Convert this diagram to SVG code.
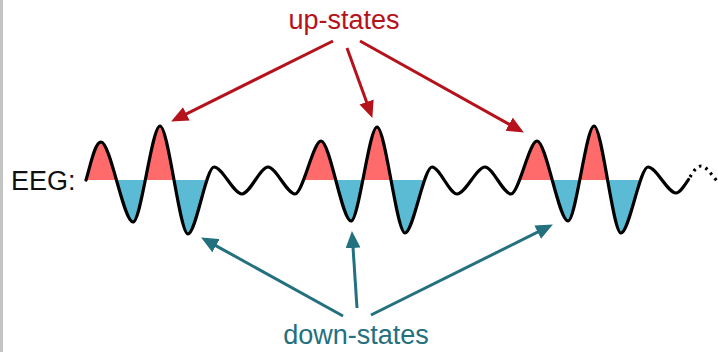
<svg xmlns="http://www.w3.org/2000/svg" width="718" height="352" viewBox="0 0 718 352">
  <defs>
    <style>
      .lbl { font-family: "Liberation Sans", Arial, sans-serif; font-size: 27px; }
      .up { fill: #B5121B; }
      .down { fill: #23707F; }
      .eeg { fill: #111111; }
      .wave { fill: none; stroke: #000000; stroke-width: 3.2; stroke-linejoin: round; stroke-linecap: round; }
      .dots { fill: none; stroke: #000000; stroke-width: 3.2; stroke-dasharray: 2.5 4.5; stroke-linecap: butt; }
      .upArrow { stroke: #B5121B; stroke-width: 3; fill: none; }
      .downArrow { stroke: #23707F; stroke-width: 3; fill: none; }
    </style>
    <marker id="headUp" markerUnits="userSpaceOnUse" markerWidth="17" markerHeight="15" refX="6" refY="7.5" orient="auto">
      <path d="M0,0 L17,7.5 L0,15 z" fill="#B5121B"/>
    </marker>
    <marker id="headDown" markerUnits="userSpaceOnUse" markerWidth="17" markerHeight="15" refX="6" refY="7.5" orient="auto">
      <path d="M0,0 L17,7.5 L0,15 z" fill="#23707F"/>
    </marker>
    <clipPath id="clipRed">
      <rect x="80" y="100" width="115" height="80"/>
      <rect x="288" y="100" width="122" height="80"/>
      <rect x="508" y="100" width="114" height="80"/>
    </clipPath>
    <clipPath id="clipBlue">
      <rect x="100" y="180" width="118" height="80"/>
      <rect x="318" y="180" width="116" height="80"/>
      <rect x="535" y="180" width="116" height="80"/>
    </clipPath>
    <path id="waveFill" d="M86,180 C91,163 95,142 101,142 C110.6,142 123.4,222 133,222 C141.1,222 151.9,126 160,126 C168.4,126 179.6,234 188,234 C195.8,234 206.2,167 214,167 C222.4,167 233.6,194 242,194 C249.8,194 260.2,167 268,167 C276.1,167 286.9,194 295,194 C302.8,194 313.2,141 321,141 C330,141 342,221 351,221 C358.8,221 369.2,127 377,127 C385.4,127 396.6,233 405,233 C413.1,233 423.9,167 432,167 C439.5,167 449.5,194 457,194 C465.4,194 476.6,167 485,167 C492.8,167 503.2,194 511,194 C518.8,194 529.2,141 537,141 C546.3,141 558.7,221 568,221 C575.8,221 586.2,126 594,126 C602.1,126 612.9,233 621,233 C629.1,233 639.9,167 648,167 C656.4,167 667.6,193 676,193 C679.75,193 684.125,186.25 688.5,179.5 L688.5,180 Z"/>
  </defs>

  <rect x="0" y="0" width="718" height="352" fill="#ffffff"/>
  <rect x="0" y="0" width="3" height="352" fill="#c4c4c4"/>

  <g id="eeg-label">
    <text class="lbl eeg" x="11" y="190">EEG:</text>
  </g>

  <g id="eeg-wave">
    <use href="#waveFill" fill="#FF6B6B" clip-path="url(#clipRed)"/>
    <use href="#waveFill" fill="#5BBBD4" clip-path="url(#clipBlue)"/>
    <path class="wave" d="M86,180 C91,163 95,142 101,142 C110.6,142 123.4,222 133,222 C141.1,222 151.9,126 160,126 C168.4,126 179.6,234 188,234 C195.8,234 206.2,167 214,167 C222.4,167 233.6,194 242,194 C249.8,194 260.2,167 268,167 C276.1,167 286.9,194 295,194 C302.8,194 313.2,141 321,141 C330,141 342,221 351,221 C358.8,221 369.2,127 377,127 C385.4,127 396.6,233 405,233 C413.1,233 423.9,167 432,167 C439.5,167 449.5,194 457,194 C465.4,194 476.6,167 485,167 C492.8,167 503.2,194 511,194 C518.8,194 529.2,141 537,141 C546.3,141 558.7,221 568,221 C575.8,221 586.2,126 594,126 C602.1,126 612.9,233 621,233 C629.1,233 639.9,167 648,167 C656.4,167 667.6,193 676,193 C679.75,193 684.125,186.25 688.5,179.5"/>
    <path class="dots" d="M690,177 C693,172.5 696.5,166 701,166 C706,166 711,174 717,181"/>
  </g>

  <g id="up-states">
    <text class="lbl up" x="344" y="29" text-anchor="middle">up-states</text>
  </g>

  <g id="down-states">
    <text class="lbl down" x="356" y="344" text-anchor="middle">down-states</text>
  </g>

  <g id="connectors">
    <line class="upArrow" x1="333" y1="41" x2="180.96" y2="116.55" marker-end="url(#headUp)"/>
    <line class="upArrow" x1="347" y1="48" x2="368.6" y2="107.6" marker-end="url(#headUp)"/>
    <line class="upArrow" x1="360" y1="41" x2="514.3" y2="127.1" marker-end="url(#headUp)"/>
    <line class="downArrow" x1="343" y1="316" x2="210.75" y2="242.84" marker-end="url(#headDown)"/>
    <line class="downArrow" x1="357" y1="308" x2="352.66" y2="241.97" marker-end="url(#headDown)"/>
    <line class="downArrow" x1="371" y1="315" x2="543.04" y2="229.45" marker-end="url(#headDown)"/>
  </g>
</svg>
